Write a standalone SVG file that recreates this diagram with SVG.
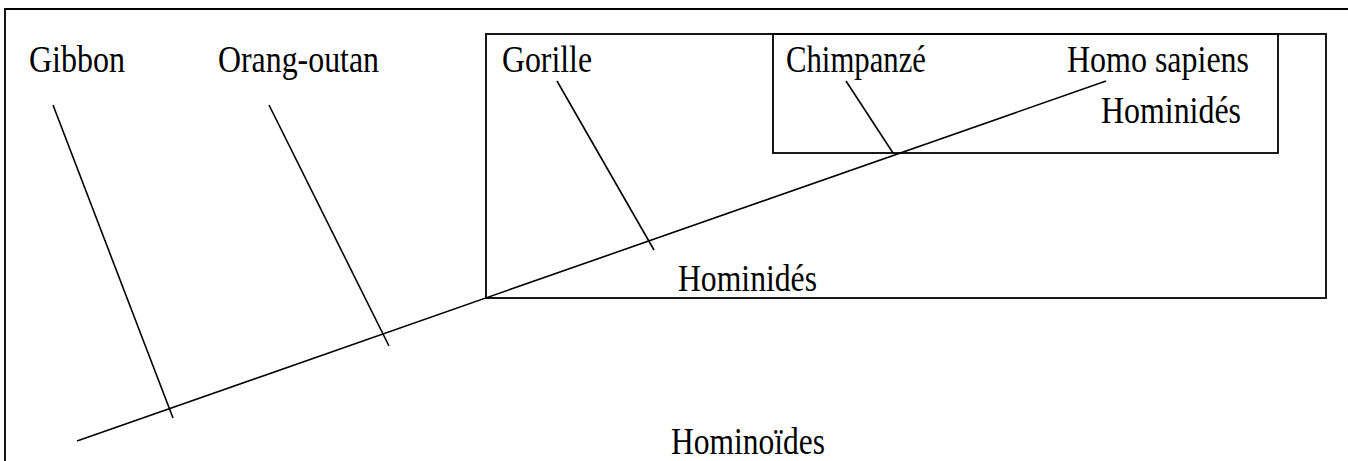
<svg xmlns="http://www.w3.org/2000/svg" width="1348" height="461" viewBox="0 0 1348 461">
<style>
.ln{stroke:#000;stroke-width:1.6;fill:none;stroke-linecap:butt}
.bx{stroke:#000;stroke-width:1.8;fill:none}
text{font-family:"Liberation Serif","Times New Roman",serif;font-size:37px;fill:#000}
</style>
<rect width="1348" height="461" fill="#fff"/>
<path class="bx" d="M5,461 V9 H1348"/>
<g id="clade-hominides-large"><rect class="bx" x="486" y="34" width="840" height="264"/><text x="678" y="291" textLength="139" lengthAdjust="spacingAndGlyphs">Hominidés</text></g>
<g id="clade-hominides-inner"><rect class="bx" x="773" y="34" width="505" height="119"/><text x="1101" y="123" textLength="140" lengthAdjust="spacingAndGlyphs">Hominidés</text></g>
<g id="gibbon"><text x="29" y="72" textLength="96" lengthAdjust="spacingAndGlyphs">Gibbon</text></g>
<g id="orang-outan"><text x="218" y="72" textLength="161" lengthAdjust="spacingAndGlyphs">Orang-outan</text></g>
<g id="gorille"><text x="502" y="72" textLength="90" lengthAdjust="spacingAndGlyphs">Gorille</text></g>
<g id="chimpanze"><text x="786" y="72" textLength="140" lengthAdjust="spacingAndGlyphs">Chimpanzé</text></g>
<g id="homo-sapiens"><text x="1067" y="72" textLength="182" lengthAdjust="spacingAndGlyphs">Homo sapiens</text></g>
<g id="hominoides"><text x="671" y="454" textLength="154" lengthAdjust="spacingAndGlyphs">Hominoïdes</text></g>
<g id="connectors">
<line class="ln" x1="77" y1="441" x2="1106" y2="81"/>
<line class="ln" x1="53" y1="105" x2="173" y2="418"/>
<line class="ln" x1="269" y1="105" x2="389" y2="346"/>
<line class="ln" x1="557" y1="81" x2="654" y2="250"/>
<line class="ln" x1="846" y1="81" x2="893" y2="153"/>
</g>
</svg>
